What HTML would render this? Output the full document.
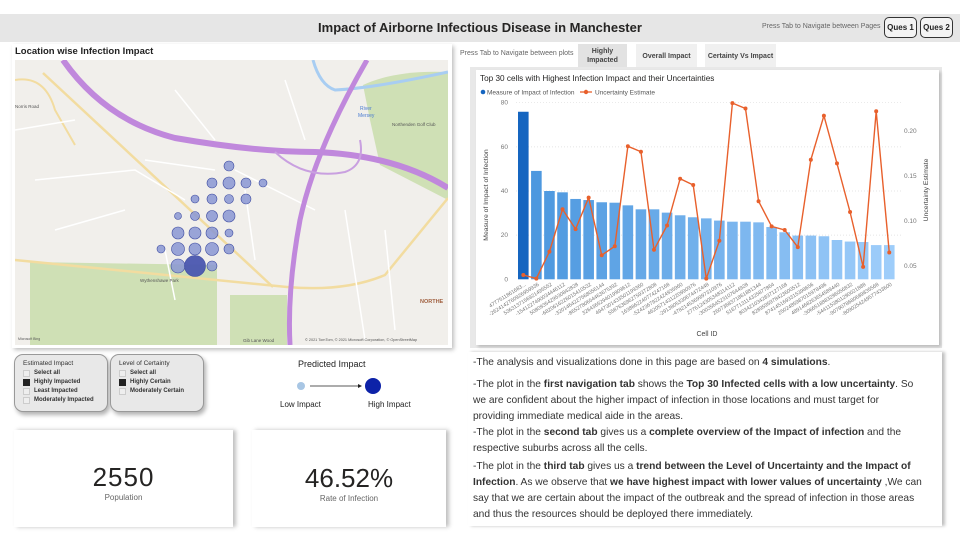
<!DOCTYPE html>
<html><head><meta charset="utf-8">
<style>
*{margin:0;padding:0;box-sizing:border-box}
body{width:960px;height:540px;background:#fff;font-family:"Liberation Sans",sans-serif;position:relative;overflow:hidden;color:#222}
.abs{position:absolute}
.hdr{left:0;top:14px;width:960px;height:28px;background:#e6e6e6}
.title{left:0;width:960px;top:20px;text-align:center;font-size:13px;font-weight:bold;color:#252423;}
.btn{top:17px;height:21px;border:1px solid #333;border-radius:5px;font-size:8px;font-weight:bold;text-align:center;line-height:19px;background:#f3f3f3}
.tab{top:44px;height:24px;font-size:7px;font-weight:bold;text-align:center;color:#444;display:flex;align-items:center;justify-content:center}
.slicer{top:354px;height:58px;background:#e8e8e8;border:1px solid #999;border-radius:9px;box-shadow:2px 3px 4px rgba(0,0,0,.3);font-size:6px;padding:4px 8px;color:#333}
.slicer div{height:9px;line-height:9px;font-weight:bold;display:flex;align-items:center;white-space:nowrap}
.slicer div.h{font-weight:normal;margin-bottom:1px;font-size:6.5px}
.cb{width:7px;height:7px;border:1px solid #ccc;margin-right:4px;display:inline-block;background:#eee;flex:none}
.cb.on{background:#222;border-color:#222}
.card{top:430px;height:97px;background:#fff;box-shadow:3px 0 4px rgba(0,0,0,.25);text-align:center}
.txt{left:468px;top:352px;width:474px;height:174px;background:#fff;box-shadow:3px 0 3px rgba(0,0,0,.25);font-size:10.2px;color:#333}
.txt p{position:absolute;left:5px;white-space:nowrap}
</style></head><body>
<div class="abs hdr"></div>
<div class="abs title">Impact of Airborne Infectious Disease in Manchester</div>
<div class="abs" style="left:762px;top:23px;font-size:7px;color:#666">Press Tab to Navigate between Pages</div>
<div class="abs btn" style="left:884px;width:33px">Ques 1</div>
<div class="abs btn" style="left:920px;width:33px">Ques 2</div>

<div class="abs" style="left:12px;top:44px;width:440px;height:304px;background:#fff;box-shadow:2px 2px 4px rgba(0,0,0,.25)"></div>
<div class="abs" style="left:15px;top:46px;font-size:9.5px;font-weight:bold">Location wise Infection Impact</div>
<svg class="abs" style="left:15px;top:60px" width="433" height="285">
<rect width="433" height="285" fill="#f1efeb"/>
<path d="M15,202 L202,205 L202,285 L15,285Z" fill="#cfe0b5"/>
<rect x="215" y="235" width="57" height="50" fill="#cfe0b5"/>
<path d="M348,25 Q380,10 433,12 L433,140 L365,105 L355,60Z" fill="#cfe0b5"/>
<path d="M298,0 Q305,25 320,30 Q360,28 433,12" stroke="#a8cdf2" stroke-width="3" fill="none"/>
<path d="M28,13 L258,227" stroke="#f2dca0" stroke-width="2.5" fill="none"/>
<path d="M0,200 L272,227 Q330,232 370,215 L433,138" stroke="#f2dca0" stroke-width="2.5" fill="none"/>
<path d="M0,20 Q30,15 40,50 L60,85" stroke="#f2dca0" stroke-width="2" fill="none"/>
<g stroke="#fff" stroke-width="1.5" fill="none">
<path d="M20,120 L120,110 L170,140"/><path d="M40,170 L110,150"/><path d="M130,100 L200,110"/><path d="M220,110 L300,150"/><path d="M330,150 L350,280"/><path d="M370,170 L380,270"/><path d="M160,30 L200,80"/><path d="M270,20 L290,80"/><path d="M0,70 L60,60"/><path d="M230,130 L240,200"/><path d="M150,190 L160,240"/>
</g>
<path d="M48,0 Q90,60 160,78 Q240,92 300,92 Q380,95 433,128" stroke="#c088dc" stroke-width="6" fill="none"/>
<path d="M352,0 Q300,90 285,160 Q272,230 275,285" stroke="#c088dc" stroke-width="5" fill="none"/>
<path d="M260,92 Q290,120 330,112 Q350,105 345,80" stroke="#c9a0e0" stroke-width="2" fill="none"/>
<g font-size="4.5" fill="#555">
<text x="0" y="48">Norris Road</text><text x="345" y="50" fill="#4a7bd0" font-size="5">River</text><text x="343" y="57" fill="#4a7bd0" font-size="5">Mersey</text><text x="377" y="66">Northenden Golf Club</text><text x="125" y="222">Wythenshawe Park</text><text x="228" y="282">Gib Lane Wood</text><text x="405" y="243" fill="#a06040" font-weight="bold" font-size="5.5">NORTHE</text><text x="290" y="281" font-size="3.8">© 2021 TomTom, © 2021 Microsoft Corporation, © OpenStreetMap</text><text x="3" y="280" font-size="3.5">Microsoft Bing</text>
</g>
<g id="dots"></g>
</svg>

<div class="abs slicer" style="left:14px;width:94px">
<div class="h">Estimated Impact</div>
<div><span class="cb"></span>Select all</div>
<div><span class="cb on"></span>Highly Impacted</div>
<div><span class="cb"></span>Least Impacted</div>
<div><span class="cb"></span>Moderately Impacted</div>
</div>
<div class="abs slicer" style="left:110px;width:94px">
<div class="h">Level of Certainty</div>
<div><span class="cb"></span>Select all</div>
<div><span class="cb on"></span>Highly Certain</div>
<div><span class="cb"></span>Moderately Certain</div>
</div>
<div class="abs" style="left:298px;top:359px;font-size:9px">Predicted Impact</div>
<svg class="abs" style="left:290px;top:375px" width="100" height="22">
<circle cx="11" cy="11" r="4" fill="#a8c6e4"/><line x1="20" y1="11" x2="68" y2="11" stroke="#222" stroke-width="0.8"/><path d="M68,9 L72,11 L68,13Z" fill="#222"/><circle cx="83" cy="11" r="8" fill="#0d22a8"/></svg>
<div class="abs" style="left:280px;top:400px;font-size:8px">Low Impact</div>
<div class="abs" style="left:368px;top:400px;font-size:8px">High Impact</div>

<div class="abs card" style="left:14px;width:219px">
<div style="font-size:26px;margin-top:32px;letter-spacing:1px;color:#252423">2550</div><div style="font-size:8px;color:#666">Population</div></div>
<div class="abs card" style="left:252px;width:194px">
<div style="font-size:26px;margin-top:33px;color:#252423">46.52%</div><div style="font-size:8px;color:#666">Rate of Infection</div></div>

<div class="abs" style="left:460px;top:50px;font-size:7px;color:#666">Press Tab to Navigate between plots</div>
<div class="abs tab" style="left:578px;width:49px;background:#e2e2e2;line-height:9px">Highly<br>Impacted</div>
<div class="abs tab" style="left:636px;width:61px;background:#f0f0f0">Overall Impact</div>
<div class="abs tab" style="left:705px;width:71px;background:#f0f0f0">Certainty Vs Impact</div>

<div class="abs" style="left:470px;top:67px;width:472px;height:281px;background:#e8e8e8"></div>
<svg id="chart" class="abs" style="left:476px;top:70px;box-shadow:2px 2px 3px rgba(0,0,0,.2)" width="463" height="275"></svg>

<div class="abs txt">
<p style="top:5px">-The analysis and visualizations done in this page are based on <b>4 simulations</b>.</p>
<p style="top:27px">-The plot in the <b>first navigation tab</b> shows the <b>Top 30 Infected cells with a low uncertainty</b>. So</p>
<p style="top:43px">we are confident about the higher impact of infection in those locations and must target for</p>
<p style="top:59px">providing immediate medical aide in the areas.</p>
<p style="top:75px">-The plot in the <b>second tab</b> gives us a <b>complete overview of the Impact of infection</b> and the</p>
<p style="top:91px">respective suburbs across all the cells.</p>
<p style="top:109px">-The plot in the <b>third tab</b> gives us a <b>trend between the Level of Uncertainty and the Impact of</b></p>
<p style="top:125px"><b>Infection</b>. As we observe that <b>we have highest impact with lower values of uncertainty</b> ,We can</p>
<p style="top:141px">say that we are certain about the impact of the outbreak and the spread of infection in those areas</p>
<p style="top:157px">and thus the resources should be deployed there immediately.</p>
</div>

<script>
const cellIds=["4777511861683...","-2624142760926959936","5363137156921495552","-1541227490034446112","5080935429530842828","-6820616226015410532","-3201464227568056144","-8652780654463675392","3264365294019909612","4947301433501199360","5587636962759372808","1638862240774247168","-5242367922424935960","4620571431220990976","-2913805330674472448","-4782145369997310976","2776124305348314112","-3003564523107644928","2607368371861881344","5167713114325877864","8034210342837127168","8289595978423600512","8741451693315398656","2502485987015978496","4891468263654589440","-3066518883296056832","-5441153801290021888","-9079078680689835568","-8090254249577433600"];
const impact=[75.9,49.1,40.0,39.4,36.4,35.9,34.9,34.7,33.5,31.7,31.7,30.2,29.0,28.1,27.6,26.6,26.1,26.1,25.8,23.7,21.3,19.8,19.8,19.5,17.8,17.1,16.9,15.5,15.5];
const uncertainty=[0.040,0.036,0.066,0.113,0.091,0.126,0.062,0.072,0.183,0.177,0.068,0.095,0.147,0.140,0.036,0.078,0.231,0.225,0.122,0.094,0.090,0.071,0.168,0.217,0.164,0.110,0.049,0.222,0.065];
const leftTicks=[0,20,40,60,80];
const rightTicks=[0.05,0.10,0.15,0.20];
const mapX=[229,212,229,246,263,195,212,229,246,178,195,212,229,178,195,212,229,161,178,195,212,229,178,195,212];
const mapY=[166,183,183,183,183,199,199,199,199,216,216,216,216,233,233,233,233,249,249,249,249,249,266,266,266];
const mapVal=[5,5,6,5,4,4,5,4.5,5,3.5,4.5,5.5,6,6,6,6,4,4,6.5,6,6.5,5,7,10.5,5];

const NS="http://www.w3.org/2000/svg";
function mk(p,t,a){const e=document.createElementNS(NS,t);for(const k in a)e.setAttribute(k,a[k]);p.appendChild(e);return e;}
const dots=document.getElementById('dots');
mapVal.forEach((v,i)=>{const big=v>9;const c=mk(dots,'circle',{cx:mapX[i]-15,cy:mapY[i]-60,r:v,fill:big?'#4a56b0':'#8a97d4','fill-opacity':big?0.95:0.85,stroke:'#3c4aa0','stroke-width':0.6});

});

const svg=document.getElementById('chart');
mk(svg,'rect',{width:463,height:275,fill:'#fff'});
const X0=523.3-476, STEP=13.07, BW=10.6;
const yL=v=>279.3-70-v/80*176.6;
const yR=v=>266-70-(v-0.05)*900;
const xC=i=>X0+i*STEP;
let t=mk(svg,'text',{x:4,y:11,'font-size':8.2,fill:'#252423'});t.textContent='Top 30 cells with Highest Infection Impact and their Uncertainties';

const lg=mk(svg,'g',{});
mk(lg,'circle',{cx:7,cy:22,r:2.3,fill:'#1565c0'});
t=mk(lg,'text',{x:11,y:24.5,'font-size':6.5,fill:'#555'});t.textContent='Measure of Impact of Infection';
mk(lg,'line',{x1:104,y1:22,x2:116,y2:22,stroke:'#e8602c','stroke-width':1.3});mk(lg,'circle',{cx:110,cy:22,r:2.2,fill:'#e8602c'});
t=mk(lg,'text',{x:119,y:24.5,'font-size':6.5,fill:'#555'});t.textContent='Uncertainty Estimate';
leftTicks.forEach(v=>{const y=yL(v);if(v>0)mk(svg,'line',{x1:40,x2:426,y1:y,y2:y,stroke:'#ddd','stroke-dasharray':'1,2','stroke-width':0.7});
const tx=mk(svg,'text',{x:32,y:y+2,'font-size':6.5,fill:'#777','text-anchor':'end'});tx.textContent=v;
});
rightTicks.forEach(v=>{const tx=mk(svg,'text',{x:428,y:yR(v)+2,'font-size':6.5,fill:'#777'});tx.textContent=v.toFixed(2);
});
function lerp(a,b,f){return Math.round(a+(b-a)*f);}
impact.forEach((v,i)=>{const f=i/(impact.length-1);let col=i==0?'#1565c0':`rgb(${lerp(74,158,f)},${lerp(150,205,f)},${lerp(222,250,f)})`;
const r=mk(svg,'rect',{x:xC(i)-BW/2,y:yL(v),width:BW,height:yL(0)-yL(v),fill:col});

const tx=mk(svg,'text',{x:xC(i)+3,y:yL(0)+6,'font-size':5.3,fill:'#777','text-anchor':'end',transform:`rotate(-32 ${xC(i)+3} ${yL(0)+6})`});tx.textContent=cellIds[i];
});
const pts=uncertainty.map((v,i)=>xC(i)+','+yR(v)).join(' ');
const pl=mk(svg,'polyline',{points:pts,fill:'none',stroke:'#e8602c','stroke-width':1.4});

uncertainty.forEach((v,i)=>{const c=mk(svg,'circle',{cx:xC(i),cy:yR(v),r:2,fill:'#e8602c'});
});
t=mk(svg,'text',{x:231,y:266,'font-size':7,fill:'#444','text-anchor':'middle'});t.textContent='Cell ID';

t=mk(svg,'text',{x:12,y:125,'font-size':6.8,fill:'#444','text-anchor':'middle',transform:'rotate(-90 12 125)'});t.textContent='Measure of Impact of Infection';

t=mk(svg,'text',{x:452,y:120,'font-size':6.8,fill:'#444','text-anchor':'middle',transform:'rotate(-90 452 120)'});t.textContent='Uncertainty Estimate';

</script>
</body></html>
